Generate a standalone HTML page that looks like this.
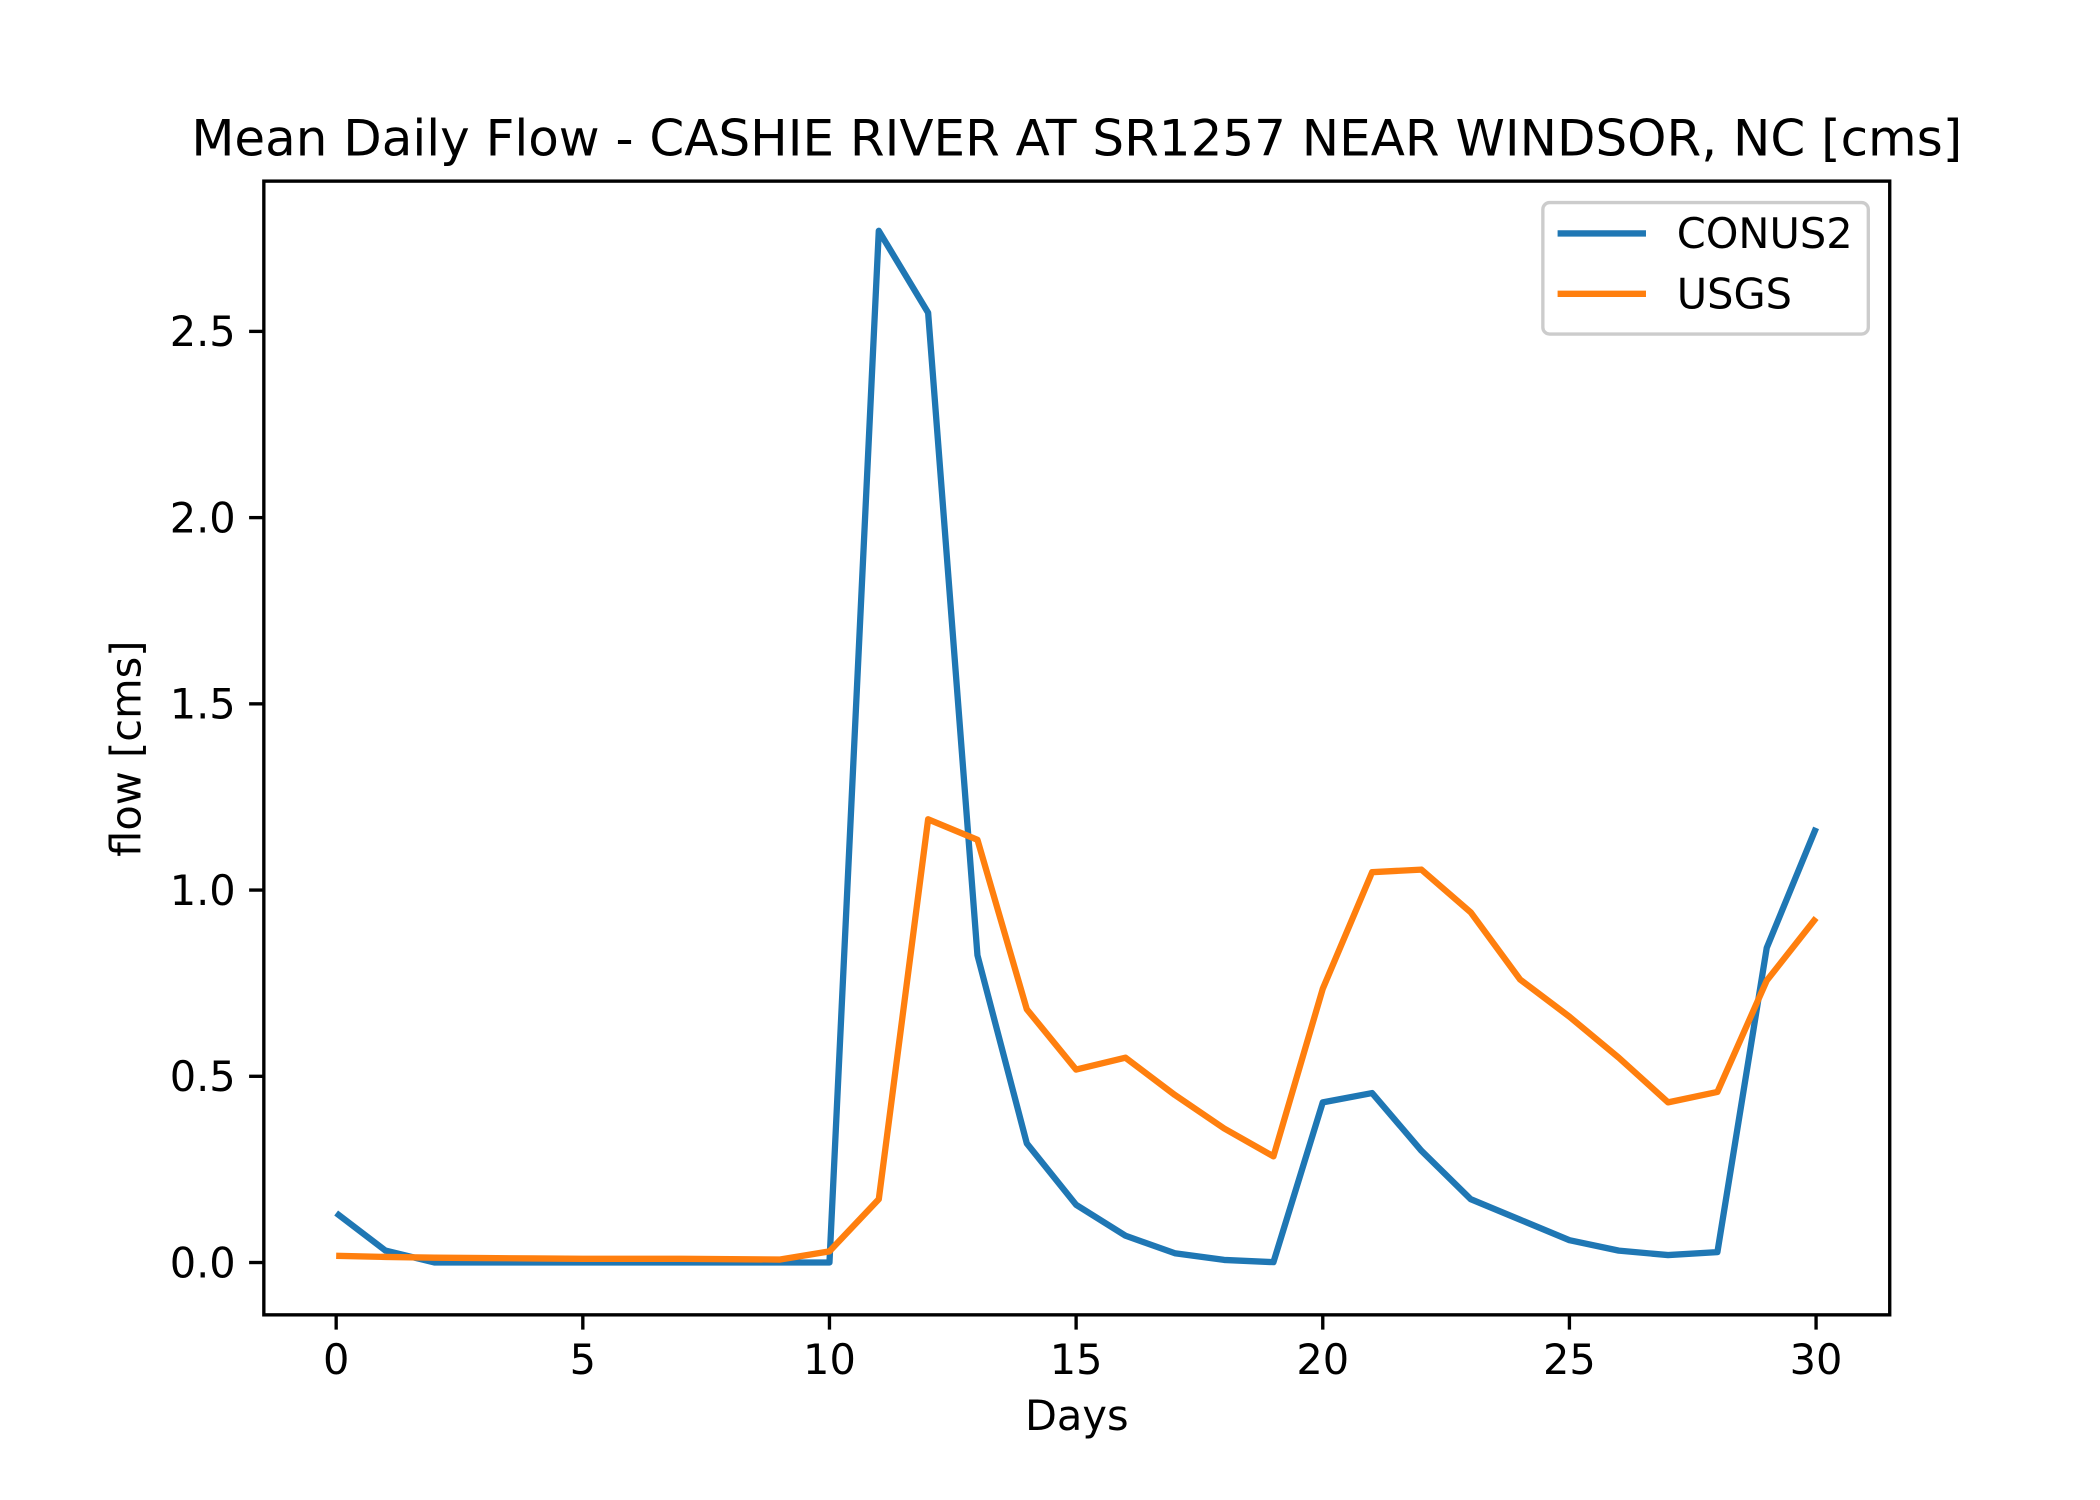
<!DOCTYPE html>
<html><head><meta charset="utf-8"><style>html,body{margin:0;padding:0;background:#fff}svg{display:block}text{font-family:"DejaVu Sans","Liberation Sans",sans-serif;fill:#000}</style></head>
<body>
<svg id="chart" width="2100" height="1500" viewBox="0 0 1568 1118" preserveAspectRatio="none" xmlns="http://www.w3.org/2000/svg">
<rect width="1568" height="1118" fill="#fff"/>
<text x="804" y="116" font-size="37.3" text-anchor="middle">Mean Daily Flow - CASHIE RIVER AT SR1257 NEAR WINDSOR, NC [cms]</text>
<g id="axes"></g>
<g id="series"></g>
<rect x="197" y="135" width="1214" height="845" fill="none" stroke="#000" stroke-width="2.5"/>
<text x="804" y="1066" font-size="31" text-anchor="middle">Days</text>
<text transform="translate(105,558) rotate(-90)" font-size="31" text-anchor="middle">flow [cms]</text>
<g>
<rect x="1152" y="151" width="243" height="98" rx="5" fill="#fff" stroke="#ccc" stroke-width="2.5"/>
<line x1="1163" y1="174" x2="1229" y2="174" stroke="#1f77b4" stroke-width="4.7"/>
<text x="1252" y="185" font-size="31">CONUS2</text>
<line x1="1163" y1="219" x2="1229" y2="219" stroke="#ff7f0e" stroke-width="4.7"/>
<text x="1252" y="230" font-size="31">USGS</text>
</g>
</svg>
<script>
const days = Array.from({length:31},(_,i)=>i);
const conus2 = [0.133,0.032,0.0,0.0,0.0,0.0,0.0,0.0,0.0,0.0,0.0,2.77,2.55,0.825,0.32,0.155,0.072,0.025,0.007,0.001,0.43,0.455,0.30,0.17,0.115,0.06,0.032,0.02,0.028,0.845,1.167];
const usgs = [0.018,0.015,0.013,0.012,0.011,0.01,0.01,0.01,0.009,0.008,0.03,0.17,1.19,1.135,0.68,0.518,0.55,0.45,0.36,0.285,0.735,1.048,1.055,0.94,0.76,0.66,0.55,0.43,0.458,0.757,0.925];
const xTicks = [0,5,10,15,20,25,30];
const yTicks = [0.0,0.5,1.0,1.5,2.0,2.5];
const NS='http://www.w3.org/2000/svg';
function xs(d){return 251 + d*(1356-251)/30;}
function ys(v){return 941 - v*(941-247)/2.5;}
const ax=document.getElementById('axes');
xTicks.forEach(t=>{
  const l=document.createElementNS(NS,'line');
  
  
  l.setAttribute('x1',xs(t));l.setAttribute('x2',xs(t));l.setAttribute('y1',980);l.setAttribute('y2',991);l.setAttribute('stroke','#000');l.setAttribute('stroke-width','2.5');ax.appendChild(l);
  const tx=document.createElementNS(NS,'text');
  
  
  tx.setAttribute('x',xs(t));tx.setAttribute('y',1024);tx.setAttribute('font-size','31');tx.setAttribute('text-anchor','middle');tx.textContent=t;ax.appendChild(tx);
});
yTicks.forEach(t=>{
  const l=document.createElementNS(NS,'line');
  
  
  l.setAttribute('x1',186);l.setAttribute('x2',197);l.setAttribute('y1',ys(t));l.setAttribute('y2',ys(t));l.setAttribute('stroke','#000');l.setAttribute('stroke-width','2.5');ax.appendChild(l);
  const tx=document.createElementNS(NS,'text');
  
  
  tx.setAttribute('x',176);tx.setAttribute('y',ys(t)+11);tx.setAttribute('font-size','31');tx.setAttribute('text-anchor','end');tx.textContent=t.toFixed(1);ax.appendChild(tx);
});
const sg=document.getElementById('series');
[[conus2,'#1f77b4','conus2-line'],[usgs,'#ff7f0e','usgs-line']].forEach(([vals,c,n])=>{
  const p=document.createElementNS(NS,'polyline');
  
  
  p.setAttribute('points',vals.map((v,i)=>xs(days[i])+','+ys(v)).join(' '));
  p.setAttribute('fill','none');p.setAttribute('stroke',c);p.setAttribute('stroke-width','4.7');p.setAttribute('stroke-linejoin','round');
  sg.appendChild(p);
});
</script>
</body></html>
